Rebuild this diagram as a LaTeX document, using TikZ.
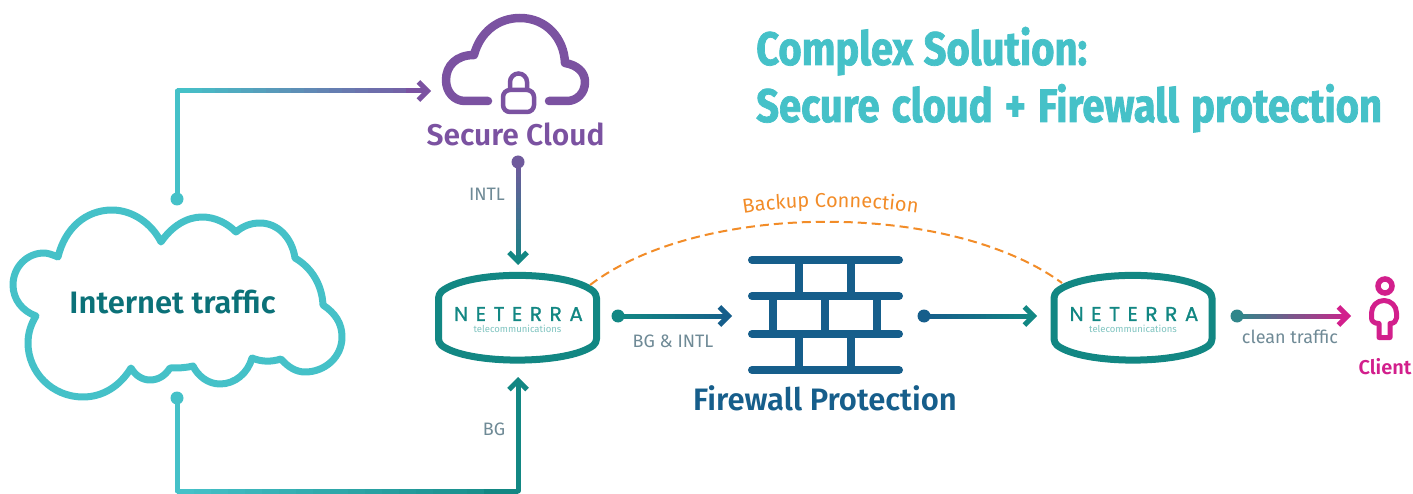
\documentclass[tikz,border=0pt]{standalone}
\usepackage{fontspec}
\usetikzlibrary{arrows.meta,calc,decorations.text}
\setmainfont{Fira Sans}
\newfontfamily\titlefont[FakeStretch=0.85,BoldFeatures={FakeBold=1.5}]{Fira Sans}
\newfontfamily\titlewide[FakeStretch=0.85,WordSpace=1.13,BoldFeatures={FakeBold=1.5}]{Fira Sans}
\newfontfamily\logofont[LetterSpace=38,FakeBold=1]{Poppins}
\newfontfamily\labelfont{Fira Sans SemiBold}
\definecolor{cloudcyan}{HTML}{45C1C8}
\definecolor{routerteal}{HTML}{128783}
\definecolor{cleanteal}{HTML}{31868A}
\definecolor{textteal}{HTML}{0B7178}
\definecolor{securepurple}{HTML}{7B52A1}
\definecolor{intlpurple}{HTML}{6F5A9C}
\definecolor{wallblue}{HTML}{165E8B}
\definecolor{clientpink}{HTML}{D21F8C}
\definecolor{backuporange}{HTML}{F28C28}
\definecolor{labelgray}{HTML}{6F8A96}
\definecolor{logolight}{HTML}{7FC4C0}
% gradient connector: from, to, start colour, end colour, tip
\newcommand{\gradedge}[5]{
	\foreach \n in {0,...,18} {
		\pgfmathsetmacro{\t}{\n/20}
		\pgfmathsetmacro{\u}{(\n+1.2)/20}
		\pgfmathsetmacro{\p}{\n*5}
		\draw[conn,#4!\p!#3] ($(#1)!\t!(#2)$) -- ($(#1)!\u!(#2)$);
	}
	\draw[conn,#5,#4] ($(#1)!0.9!(#2)$) -- (#2);
}
\tikzset{
	conn/.style={line width=5pt},
	tip/.style={-{Straight Barb[length=9pt,width=18pt,line width=5pt]}},
	plain/.style={},
	dot/.style={circle,fill,inner sep=0pt,minimum size=13pt},
	gray label/.style={text=labelgray,font=\fontsize{18}{20}\selectfont},
	big label/.style={font=\labelfont\fontsize{31}{34}\selectfont},
	outline/.style={line width=7pt,line join=round,line cap=round},
	neterra/.pic={
		\draw[outline,routerteal,fill=white,rounded corners=4pt] (-79,-24) .. controls (-50,-48) and (50,-48) .. (79,-24)
			-- (79,25) .. controls (50,47) and (-50,47) .. (-79,25) -- cycle;
		\node[text=routerteal,inner sep=0pt,font=\logofont\fontsize{20}{20}\selectfont] (-logo) at (1,-4) {NETERRA};
		\node[text=logolight,inner sep=0pt,font=\fontsize{9.5}{10}\selectfont] (-sub) at (0,10.5) {telecommunications};
	}
}
\begin{document}
\begin{tikzpicture}[x=1pt,y=-1pt]
	\useasboundingbox (0,0) rectangle (1413,494);
	% title
	\node[anchor=base west,text=cloudcyan,inner sep=0pt,font=\titlefont\fontsize{47}{50}\selectfont\bfseries] (title1) at (756,65) {Complex Solution:};
	\node[anchor=base west,text=cloudcyan,inner sep=0pt,font=\titlewide\fontsize{47}{50}\selectfont\bfseries] (title2) at (756,122) {Secure cloud + Firewall protection};
	% internet cloud
	\draw[outline,cloudcyan] (58,257) .. controls (65,228) and (86,210) .. (112,210)
		.. controls (133,210) and (152,224) .. (161,242)
		.. controls (172,226) and (187,217) .. (202,217)
		.. controls (215,217) and (227,223) .. (236,232)
		.. controls (243,226) and (251,223) .. (260,223)
		.. controls (278,223) and (292,238) .. (295,258)
		.. controls (312,268) and (322,285) .. (323,305)
		.. controls (335,313) and (342,323) .. (342,337)
		.. controls (342,357) and (325,372) .. (305,372)
		.. controls (296,372) and (288,367) .. (281,359)
		.. controls (271,362) and (262,362) .. (252,358)
		.. controls (248,373) and (235,384) .. (220,384)
		.. controls (208,384) and (198,376) .. (193,366)
		.. controls (185,368) and (178,368) .. (170,368)
		.. controls (165,376) and (158,380) .. (150,380)
		.. controls (142,380) and (135,375) .. (131,368)
		.. controls (120,386) and (103,397) .. (83,397)
		.. controls (52,397) and (28,372) .. (28,343)
		.. controls (28,333) and (31,324) .. (36,316)
		.. controls (22,311) and (13,299) .. (13,285)
		.. controls (13,267) and (27,253) .. (44,253)
		.. controls (48,253) and (53,255) .. (58,257) -- cycle;
	\node[text=textteal,big label] (traffic) at (172.5,302) {Internet traffic};
	% secure cloud
	\draw[securepurple,line width=8.5pt,line cap=round,line join=round] (488,101) -- (465,101)
		.. controls (454,101) and (446,92) .. (446,80)
		.. controls (446,66) and (456,55) .. (474,55)
		.. controls (480,32) and (498,18) .. (520,18)
		.. controls (546,18) and (564,38) .. (565,63)
		.. controls (577,65) and (585,72) .. (585,82)
		.. controls (585,93) and (577,101) .. (567,101) -- (549,101);
	\draw[securepurple,line width=4.5pt,rounded corners=7pt] (503,90) rectangle (534,112);
	\draw[securepurple,line width=4.5pt] (510,90) -- (510,82) arc[start angle=180,end angle=360,radius=8.5] -- (527,90);
	\node[text=securepurple,big label,font=\labelfont\fontsize{30}{34}\selectfont] (secure) at (515.5,134) {Secure Cloud};
	% routers
	\pic (left) at (517.5,318) {neterra};
	\pic (right) at (1133,318) {neterra};
	% firewall
	\foreach \y in {260,296,334,370}
		\draw[wallblue,line width=8pt,line cap=round] (752,\y) -- (899,\y);
	\foreach \x in {799,851} {
		\draw[wallblue,line width=7.5pt] (\x,260) -- (\x,296);
		\draw[wallblue,line width=7.5pt] (\x,334) -- (\x,370);
	}
	\foreach \x in {773,825,877}
		\draw[wallblue,line width=7.5pt] (\x,296) -- (\x,334);
	\node[text=wallblue,big label] (firewall) at (825,398) {Firewall Protection};
	% client
	\draw[clientpink,line width=5.5pt] (1385,286) circle[radius=7];
	\draw[clientpink,line width=5pt,line join=round] (1384,300.5) .. controls (1377,300.5) and (1371.5,306) .. (1371.5,313)
		-- (1371.5,318) .. controls (1371.5,321) and (1374,323.5) .. (1379,323.5) -- (1379,337.5) -- (1390,337.5) -- (1390,323.5)
		.. controls (1394,323.5) and (1396.5,321) .. (1396.5,318) -- (1396.5,313)
		.. controls (1396.5,306) and (1391,300.5) .. (1384,300.5) -- cycle;
	\node[text=clientpink,font=\labelfont\fontsize{20}{22}\selectfont] (client) at (1385,367) {Client};
	% end points of the connectors
	\coordinate (topstart) at (177,199);
	\coordinate (topcorner) at (177,91);
	\coordinate (topend) at (431,91);
	\coordinate (bottomstart) at (177,398);
	\coordinate (bottomcorner) at (177,491);
	\coordinate (bottomturn) at (518,491);
	\coordinate (bottomend) at (518,377);
	\coordinate (intlstart) at (518,162);
	\coordinate (intlend) at (518,265);
	\coordinate (wallin) at (618,316);
	\coordinate (wallinend) at (732,316);
	\coordinate (wallout) at (924,316);
	\coordinate (walloutend) at (1037,316);
	\coordinate (cleanstart) at (1237,316);
	\coordinate (cleanend) at (1351,316);
	\coordinate (backupstart) at (590,285);
	\coordinate (backupend) at (1062,283);
	% connectors
	\draw[conn,cloudcyan,line cap=round] (topstart) -- (topcorner);
	\gradedge{topcorner}{topend}{cloudcyan}{securepurple}{tip}
	\node[dot,cloudcyan] (topdot) at (topstart) {};
	\draw[conn,cloudcyan,line cap=round] (bottomstart) -- (bottomcorner);
	\gradedge{bottomcorner}{bottomturn}{cloudcyan}{routerteal}{plain}
	\draw[conn,routerteal,tip,line cap=round] (bottomturn) -- (bottomend);
	\node[dot,cloudcyan] (bottomdot) at (bottomstart) {};
	\gradedge{intlstart}{intlend}{intlpurple}{routerteal}{tip}
	\node[dot,intlpurple] (intldot) at (intlstart) {};
	\gradedge{wallin}{wallinend}{routerteal}{wallblue}{tip}
	\node[dot,routerteal] (wallindot) at (wallin) {};
	\gradedge{wallout}{walloutend}{wallblue}{routerteal}{tip}
	\node[dot,wallblue] (walloutdot) at (wallout) {};
	\gradedge{cleanstart}{cleanend}{cleanteal}{clientpink}{tip}
	\node[dot,cleanteal] (cleandot) at (cleanstart) {};
	\draw[backuporange,line width=2pt,dash pattern=on 9pt off 5pt] (backupstart) .. controls (700,201) and (950,201) .. (backupend);
	% labels
	\node[gray label] (intl) at (487,194) {INTL};
	\node[gray label] (bg) at (494,429) {BG};
	\node[gray label] (bgintl) at (673,341) {BG \& INTL};
	\node[gray label] (clean) at (1290,337) {clean traffic};
	\path[decorate,decoration={text along path,text align=center,
		text={|\fontsize{20}{22}\selectfont\color{backuporange}|Backup Connection}}]
		(739,214) .. controls (790,205) and (870,205) .. (922,214);
\end{tikzpicture}
\end{document}
